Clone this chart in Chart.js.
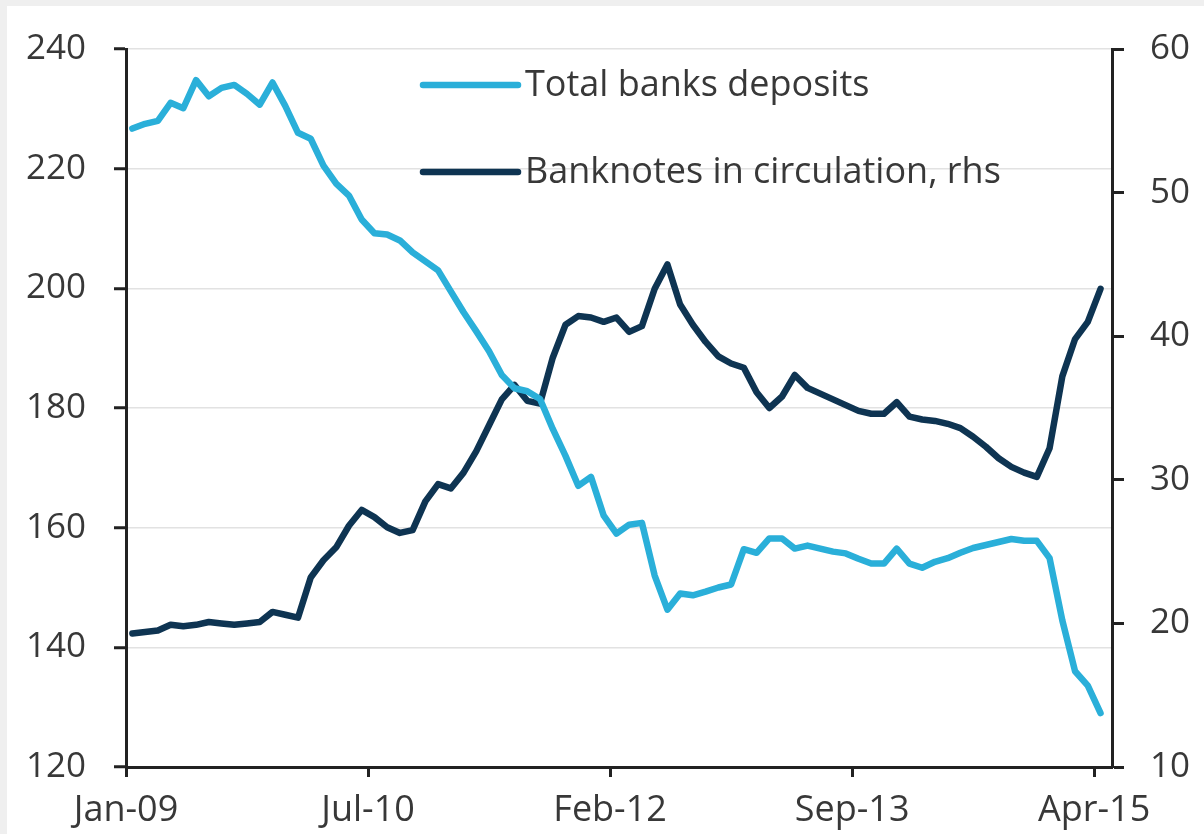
<!DOCTYPE html>
<html>
<head>
<meta charset="utf-8">
<script src="https://cdn.jsdelivr.net/npm/chart.js@4"></script>
<style>
  html, body { margin: 0; padding: 0; background: #efefef; }
  #wrap { position: absolute; left: 0; top: 0; width: 1204px; height: 834px; }
  #panel { position: absolute; left: 7px; top: 6px; right: 0; bottom: 0; background: #fff; }
  canvas { position: absolute; left: 0; top: 0; }
</style>
</head>
<body>
<div id="wrap">
  <div id="panel"></div>
  <canvas id="chart" width="1204" height="834"></canvas>
</div>
<script>
// monthly points
const deposits = [
    226.7, 227.5, 228.0, 231.0, 230.1, 234.8, 232.1, 233.5, 234.0, 232.5,
    230.7, 234.4, 230.5, 226.0, 225.0, 220.5, 217.5, 215.5, 211.5, 209.2,
    209.0, 208.0, 206.0, 204.5, 203.0, 199.5, 196.0, 192.8, 189.5, 185.5,
    183.3, 182.8, 181.5, 176.5, 172.0, 167.0, 168.5, 162.0, 159.0, 160.5,
    160.8, 152.0, 146.3, 149.0, 148.7, 149.3, 150.0, 150.5, 156.4, 155.8,
    158.2, 158.2, 156.5, 157.0, 156.5, 156.0, 155.7, 154.8, 154.0, 154.0,
    156.5, 154.0, 153.3, 154.3, 154.9, 155.8, 156.6, 157.1, 157.6, 158.1,
    157.8, 157.8, 154.9, 144.5, 136.0, 133.6, 129.0
];
const banknotes = [
    19.3, 19.4, 19.5, 19.9, 19.8, 19.9, 20.1, 20.0, 19.9, 20.0,
    20.1, 20.8, 20.6, 20.4, 23.2, 24.4, 25.3, 26.8, 27.9, 27.4,
    26.7, 26.3, 26.5, 28.5, 29.7, 29.4, 30.5, 32.0, 33.8, 35.6,
    36.6, 35.5, 35.3, 38.5, 40.8, 41.4, 41.3, 41.0, 41.3, 40.3,
    40.7, 43.3, 45.0, 42.2, 40.8, 39.6, 38.6, 38.1, 37.8, 36.1,
    35.0, 35.8, 37.3, 36.4, 36.0, 35.6, 35.2, 34.8, 34.6, 34.6,
    35.4, 34.4, 34.2, 34.1, 33.9, 33.6, 33.0, 32.3, 31.5, 30.9,
    30.5, 30.2, 32.2, 37.2, 39.8, 41.0, 43.3
];
const seriesNames = ["Total banks deposits", "Banknotes in circulation, rhs"];
const tickLabels = ["Jan-09", "Jul-10", "Feb-12", "Sep-13", "Apr-15"];
const tickIndex = [-0.5, 18.5, 37.5, 56.5, 75.5];

const lightBlue = "#2aafd9";
const darkBlue = "#0e3452";
const textColor = "#383838";
const fontFamily = "'Open Sans', sans-serif";

// legend drawn inside the plot like the original
const legendPlugin = {
    id: "inlineLegend",
    afterDraw(chart) {
        const ctx = chart.ctx;
        const rows = [85, 172];
        ctx.save();
        chart.data.datasets.forEach((ds, i) => {
            const y = rows[i];
            ctx.strokeStyle = ds.borderColor;
            ctx.lineWidth = 6.5;
            ctx.lineCap = "round";
            ctx.beginPath();
            ctx.moveTo(423, y);
            ctx.lineTo(518, y);
            ctx.stroke();
            ctx.fillStyle = textColor;
            ctx.font = "36px " + fontFamily;
            ctx.textBaseline = "middle";
            ctx.textAlign = "left";
            ctx.fillText(ds.label, 525, y + 1);
        });
        ctx.restore();
    }
};

const ctx = document.getElementById("chart");

new Chart(ctx, {
    type: "line",
    data: {
        datasets: [
            {
                label: seriesNames[0],
                data: deposits.map((v, i) => ({ x: i, y: v })),
                yAxisID: "y",
                borderColor: lightBlue,
                borderWidth: 6.5,
                pointRadius: 0,
                tension: 0,
                borderJoinStyle: "round",
                borderCapStyle: "round"
            },
            {
                label: seriesNames[1],
                data: banknotes.map((v, i) => ({ x: i, y: v })),
                yAxisID: "y2",
                borderColor: darkBlue,
                borderWidth: 6.5,
                pointRadius: 0,
                tension: 0,
                borderJoinStyle: "round",
                borderCapStyle: "round"
            }
        ]
    },
    options: {
        responsive: false,
        animation: false,
        events: [],
        layout: { padding: { top: 48, left: 0, right: 0, bottom: 0 } },
        plugins: {
            legend: { display: false },
            tooltip: { enabled: false }
        },
        scales: {
            x: {
                type: "linear",
                min: -0.5,
                max: 76.9,
                afterBuildTicks: (scale) => {
                    scale.ticks = tickIndex.map(v => ({ value: v }));
                },
                afterFit: (scale) => { scale.height = 67; },
                ticks: {
                    autoSkip: false,
                    maxRotation: 0,
                    padding: 12,
                    color: textColor,
                    font: { family: fontFamily, size: 36 },
                    callback: (v, i) => tickLabels[i]
                },
                grid: {
                    drawOnChartArea: false,
                    tickLength: 10,
                    tickWidth: 3,
                    tickColor: "#222"
                },
                border: { color: "#222", width: 3 }
            },
            y: {
                position: "left",
                min: 120,
                max: 240,
                afterFit: (scale) => { scale.width = 126; },
                ticks: {
                    stepSize: 20,
                    padding: 28,
                    color: textColor,
                    font: { family: fontFamily, size: 35 }
                },
                grid: {
                    color: "#e2e2e2",
                    lineWidth: 1.5,
                    tickLength: 12,
                    tickWidth: 3,
                    tickColor: "#222"
                },
                border: { color: "#222", width: 3 }
            },
            y2: {
                position: "right",
                min: 10,
                max: 60,
                afterFit: (scale) => { scale.width = 92; },
                ticks: {
                    stepSize: 10,
                    padding: 26,
                    color: textColor,
                    font: { family: fontFamily, size: 35 }
                },
                grid: {
                    drawOnChartArea: false,
                    tickLength: 12,
                    tickWidth: 3,
                    tickColor: "#222"
                },
                border: { color: "#222", width: 3 }
            }
        }
    },
    plugins: [legendPlugin]
});
</script>
</body>
</html>
